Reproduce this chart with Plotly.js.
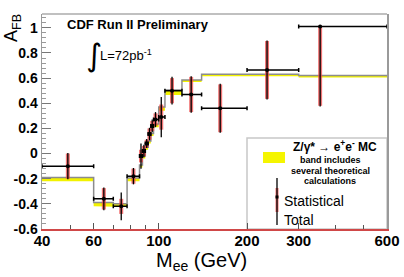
<!DOCTYPE html>
<html>
<head>
<meta charset="utf-8">
<script src="https://cdn.plot.ly/plotly-3.0.1.min.js"></script>
<style>html,body{margin:0;padding:0;background:#fff;}#chart{width:404px;height:277px;}</style>
</head>
<body>
<div id="chart"></div>
<script>
// Mass bins (GeV)
const binLo = [40, 60, 70, 78, 86, 88, 90, 92, 94, 96, 100, 105, 120, 140, 200, 300];
const binHi = [60, 70, 78, 86, 88, 90, 92, 94, 96, 100, 105, 120, 140, 200, 300, 600];
// Data points
const massCenter = [49, 65, 74.5, 82, 87, 89, 91, 93, 95, 97.5, 102, 111, 129, 162, 234, 355];
const afb        = [-0.10, -0.36, -0.42, -0.18, -0.02, 0.02, 0.08, 0.155, 0.22, 0.27, 0.29, 0.50, 0.47, 0.36, 0.665, 1.01];
const statPlus   = [0.10, 0.085, 0.06, 0.06, 0.05, 0.04, 0.03, 0.045, 0.04, 0.05, 0.10, 0.10, 0.14, 0.19, 0.23, 0.005];
const statMinus  = [0.10, 0.085, 0.06, 0.06, 0.05, 0.04, 0.03, 0.045, 0.04, 0.05, 0.10, 0.10, 0.14, 0.19, 0.23, 0.63];
const totPlus    = [0.105, 0.09, 0.11, 0.065, 0.10, 0.05, 0.035, 0.05, 0.05, 0.06, 0.16, 0.11, 0.145, 0.195, 0.235, 0.01];
const totMinus   = [0.105, 0.09, 0.11, 0.065, 0.10, 0.05, 0.035, 0.05, 0.05, 0.06, 0.16, 0.11, 0.145, 0.195, 0.235, 0.635];
// Theory band (Z/gamma* -> ee MC)
const theoryHi = [-0.19, -0.39, -0.40, -0.195, -0.09, -0.02, 0.05, 0.10, 0.16, 0.235, 0.37, 0.505, 0.585, 0.63, 0.63, 0.62];
const theoryLo = [-0.22, -0.42, -0.425, -0.22, -0.11, -0.04, 0.03, 0.08, 0.14, 0.21, 0.34, 0.465, 0.57, 0.615, 0.615, 0.605];
// Axis ticks
const xTickVals = [40, 60, 100, 200, 300, 600];
const xTickText = ['40', '60', '100', '200', '300', '600'];
const xMinorVals = [50, 70, 80, 90, 400, 500];
const yTickVals = [-0.6, -0.4, -0.2, 0, 0.2, 0.4, 0.6, 0.8, 1];
const yTickText = ['-0.6', '-0.4', '-0.2', '0', '0.2', '0.4', '0.6', '0.8', '1'];

function stepArrays(vals) {
  const xs = [], ys = [];
  for (let i = 0; i < binLo.length; i++) {
    xs.push(binLo[i], binHi[i]);
    ys.push(vals[i], vals[i]);
  }
  return {xs, ys};
}
const lo = stepArrays(theoryLo), hi = stepArrays(theoryHi);

const traces = [
  {x: lo.xs, y: lo.ys, mode: 'lines', line: {width: 0, color: 'rgba(0,0,0,0)'}, hoverinfo: 'skip', showlegend: false},
  {x: hi.xs, y: hi.ys, mode: 'lines', fill: 'tonexty', fillcolor: '#f2f200', line: {width: 0, color: 'rgba(0,0,0,0)'}, hoverinfo: 'skip', showlegend: false},
  {x: hi.xs, y: hi.ys, mode: 'lines', line: {width: 1.5, color: '#8c8c8c'}, showlegend: false},
  {x: massCenter, y: afb, mode: 'markers', marker: {size: 1, color: 'rgba(0,0,0,0)'}, showlegend: false,
   error_y: {type: 'data', symmetric: false, array: statPlus, arrayminus: statMinus, color: 'rgba(235,70,70,0.75)', thickness: 4, width: 0}},
  {x: massCenter, y: afb, mode: 'markers', marker: {size: 4, color: '#000'}, showlegend: false,
   error_y: {type: 'data', symmetric: false, array: totPlus, arrayminus: totMinus, color: '#000', thickness: 1.3, width: 0},
   error_x: {type: 'data', symmetric: false, array: massCenter.map((m, i) => binHi[i] - m), arrayminus: massCenter.map((m, i) => m - binLo[i]), color: '#000', thickness: 1.5, width: 2}}
];

const X0 = 42, W = 345, Y0 = 229, H = 215;
const xp = p => (p - X0) / W;
const yp = p => (Y0 - p) / H;
const F = 'Liberation Sans, Arial, sans-serif';

const layout = {
  width: 404, height: 277,
  margin: {l: 42, r: 17, t: 14, b: 48, pad: 0},
  paper_bgcolor: '#fff', plot_bgcolor: '#fff',
  showlegend: false,
  xaxis: {
    type: 'log', range: [Math.log10(40), Math.log10(600)],
    tickmode: 'array', tickvals: xTickVals, ticktext: xTickText,
    ticks: 'inside', ticklen: 6, tickcolor: '#555', tickwidth: 1,
    ticklabelstandoff: -3,
    minor: {tickmode: 'array', tickvals: xMinorVals, ticks: 'inside', ticklen: 4, tickcolor: '#555'},
    showgrid: false, zeroline: false,
    showline: true, linecolor: '#d04848', linewidth: 1.5, mirror: false,
    tickfont: {family: F, size: 15, color: '#000', weight: 'bold'}
  },
  yaxis: {
    range: [-0.6, 1.11],
    tickmode: 'array', tickvals: yTickVals, ticktext: yTickText,
    ticks: 'inside', ticklen: 9, tickcolor: '#777', tickwidth: 1,
    minor: {dtick: 0.04, tick0: 0, ticks: 'inside', ticklen: 4, tickcolor: '#999'},
    showgrid: false, zeroline: false,
    showline: true, linecolor: '#9a9a9a', linewidth: 1.5, mirror: true,
    tickfont: {family: F, size: 14, color: '#000', weight: 'bold'}
  },
  shapes: [
    {type: 'line', xref: 'paper', yref: 'paper', x0: 0, x1: 1, y0: 1, y1: 1, line: {color: '#c0c0c0', width: 2}},
    {type: 'rect', xref: 'paper', yref: 'paper', x0: xp(247), x1: 1, y0: 0, y1: yp(138), line: {color: '#c8c8c8', width: 1.5}, fillcolor: '#fff', layer: 'below'},
    {type: 'rect', xref: 'paper', yref: 'paper', x0: xp(263), x1: xp(285), y0: yp(163), y1: yp(152), line: {width: 0}, fillcolor: '#f5f500'},
    {type: 'rect', xref: 'paper', yref: 'paper', x0: xp(275.5), x1: xp(278.5), y0: yp(212), y1: yp(188), line: {width: 0}, fillcolor: 'rgba(235,70,70,0.75)'},
    {type: 'line', xref: 'paper', yref: 'paper', x0: xp(277), x1: xp(277), y0: yp(225), y1: yp(178), line: {color: '#000', width: 1.3}},
    {type: 'rect', xref: 'paper', yref: 'paper', x0: xp(275.5), x1: xp(278.5), y0: yp(198.5), y1: yp(195.5), line: {width: 0}, fillcolor: '#000'}
  ],
  annotations: [
    {xref: 'paper', yref: 'paper', x: xp(65), y: yp(25), xanchor: 'left', yanchor: 'middle', showarrow: false,
     text: 'CDF Run II Preliminary', font: {family: F, size: 13, color: '#000', weight: 'bold'}},
    {xref: 'paper', yref: 'paper', x: xp(94), y: yp(55), xanchor: 'center', yanchor: 'middle', showarrow: false,
     text: '∫', font: {family: 'DejaVu Sans', size: 31, color: '#000'}},
    {xref: 'paper', yref: 'paper', x: xp(98), y: yp(55), xanchor: 'left', yanchor: 'middle', showarrow: false,
     text: 'L=72pb<sup>-1</sup>', font: {family: F, size: 13, color: '#000'}},
    {xref: 'paper', yref: 'paper', x: xp(12), y: yp(28), xanchor: 'center', yanchor: 'middle', showarrow: false, textangle: -90,
     text: 'A<sub>FB</sub>', font: {family: F, size: 18, color: '#000'}},
    {xref: 'paper', yref: 'paper', x: xp(201), y: yp(261), xanchor: 'center', yanchor: 'middle', showarrow: false,
     text: 'M<sub>ee</sub> (GeV)', font: {family: F, size: 20, color: '#000'}},
    {xref: 'paper', yref: 'paper', x: xp(335), y: yp(146), xanchor: 'center', yanchor: 'middle', showarrow: false,
     text: 'Z/γ* → e<sup>+</sup>e<sup>-</sup> MC', font: {family: F, size: 12, color: '#000', weight: 'bold'}},
    {xref: 'paper', yref: 'paper', x: xp(330), y: yp(160), xanchor: 'center', yanchor: 'middle', showarrow: false,
     text: 'band includes', font: {family: F, size: 9, color: '#000', weight: 'bold'}},
    {xref: 'paper', yref: 'paper', x: xp(330), y: yp(171), xanchor: 'center', yanchor: 'middle', showarrow: false,
     text: 'several theoretical', font: {family: F, size: 9, color: '#000', weight: 'bold'}},
    {xref: 'paper', yref: 'paper', x: xp(330), y: yp(181), xanchor: 'center', yanchor: 'middle', showarrow: false,
     text: 'calculations', font: {family: F, size: 9, color: '#000', weight: 'bold'}},
    {xref: 'paper', yref: 'paper', x: xp(282), y: yp(201), xanchor: 'left', yanchor: 'middle', showarrow: false,
     text: 'Statistical', font: {family: F, size: 14, color: '#000'}},
    {xref: 'paper', yref: 'paper', x: xp(282), y: yp(220), xanchor: 'left', yanchor: 'middle', showarrow: false,
     text: 'Total', font: {family: F, size: 14, color: '#000'}}
  ]
};

Plotly.newPlot('chart', traces, layout, {staticPlot: true, displayModeBar: false});
</script>
</body>
</html>
